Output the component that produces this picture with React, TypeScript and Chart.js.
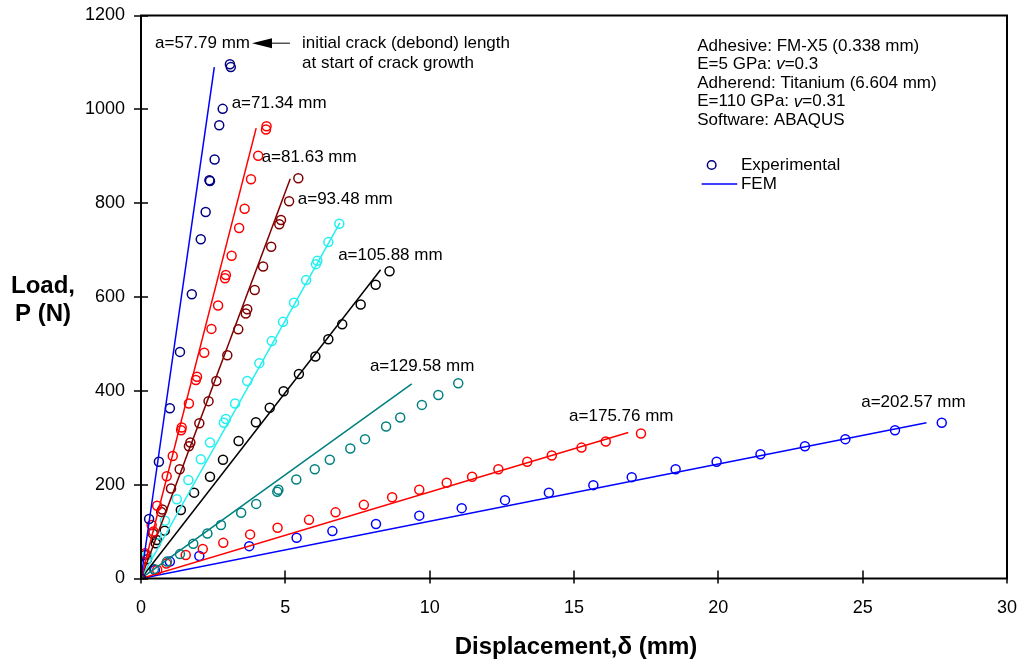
import { useEffect, useRef } from "react";
import { Chart, registerables } from "chart.js";

Chart.register(...registerables);

const FONT = '"Liberation Sans", Arial, Helvetica, sans-serif';

// Axis ranges / ticks
const xTickValues = [0, 5, 10, 15, 20, 25, 30];
const yTickValues = [0, 200, 400, 600, 800, 1000, 1200];

// Crack lengths (series names)
const crackLabels = ["a=57.79 mm", "a=71.34 mm", "a=81.63 mm", "a=93.48 mm", "a=105.88 mm", "a=129.58 mm", "a=175.76 mm", "a=202.57 mm"];

// Experimental data: displacement (mm) / load (N)
const exp1X = [0, 0.28, 0.62, 1.0, 1.35, 1.76, 2.07, 2.24, 2.37, 2.39, 2.55, 2.71, 2.83, 3.08, 3.11];
const exp1Y = [0, 127, 249, 363, 483, 606, 723, 781, 849, 847, 893, 966, 1001, 1096, 1090];

const exp2X = [0, 0.14, 0.37, 0.43, 0.56, 0.89, 1.1, 1.39, 1.41, 1.66, 1.9, 1.94, 2.19, 2.44, 2.67, 2.91, 2.94, 3.14, 3.4, 3.59, 3.81, 4.06, 4.33, 4.35];
const exp2Y = [0, 54, 114, 100, 155, 218, 261, 316, 322, 373, 423, 430, 481, 532, 582, 640, 647, 688, 747, 788, 851, 901, 957, 964];

const exp3X = [0, 0.14, 0.41, 0.7, 0.74, 1.04, 1.34, 1.66, 1.71, 2.02, 2.34, 2.61, 2.99, 3.37, 3.63, 3.68, 3.94, 4.23, 4.51, 4.79, 4.85, 5.13, 5.45];
const exp3Y = [0, 50, 96, 142, 147, 192, 233, 282, 290, 331, 378, 421, 476, 531, 565, 574, 615, 665, 707, 755, 764, 804, 853];

const exp4X = [0, 0.22, 0.54, 0.83, 1.24, 1.64, 2.07, 2.39, 2.87, 2.94, 3.26, 3.68, 4.1, 4.53, 4.92, 5.3, 5.72, 6.06, 6.11, 6.49, 6.87];
const exp4Y = [0, 50, 93, 123, 169, 210, 254, 290, 332, 340, 373, 421, 459, 506, 547, 588, 636, 670, 677, 717, 756];

const exp5X = [0, 0.21, 0.51, 0.55, 0.82, 1.38, 1.84, 2.39, 2.84, 3.38, 3.98, 4.46, 4.94, 5.47, 6.04, 6.49, 6.97, 7.61, 8.13, 8.61];
const exp5Y = [0, 41, 75, 82, 102, 146, 183, 217, 253, 293, 333, 364, 399, 436, 473, 510, 542, 584, 626, 655];

const exp6X = [0, 0.45, 0.9, 1.35, 1.81, 2.3, 2.77, 3.47, 3.99, 4.72, 4.76, 5.38, 6.02, 6.54, 7.25, 7.76, 8.49, 8.98, 9.73, 10.3, 10.99];
const exp6Y = [0, 20, 36, 52, 74, 96, 114, 140, 159, 185, 189, 211, 233, 253, 277, 297, 324, 343, 370, 391, 416];

const exp7X = [0, 0.56, 0.88, 1.55, 2.14, 2.85, 3.78, 4.73, 5.82, 6.74, 7.72, 8.7, 9.64, 10.59, 11.47, 12.38, 13.38, 14.23, 15.26, 16.1, 17.32];
const exp7Y = [0, 18, 32, 50, 63, 76, 94, 108, 125, 141, 157, 173, 189, 204, 217, 233, 249, 262, 279, 292, 309];

const exp8X = [0, 0.48, 1.0, 2.02, 3.75, 5.39, 6.63, 8.14, 9.64, 11.11, 12.61, 14.13, 15.67, 17.0, 18.52, 19.94, 21.46, 23.0, 24.4, 26.12, 27.74];
const exp8Y = [0, 18, 36, 48, 69, 87, 101, 116, 134, 150, 167, 183, 199, 216, 233, 249, 265, 282, 297, 316, 332];

// FEM predictions (linear)
const fem1X = [0, 2.54];
const fem1Y = [0, 1090];
const fem2X = [0, 3.99];
const fem2Y = [0, 960];
const fem3X = [0, 5.17];
const fem3Y = [0, 852];
const fem4X = [0, 6.89];
const fem4Y = [0, 758];
const fem5X = [0, 8.3];
const fem5Y = [0, 658];
const fem6X = [0, 9.38];
const fem6Y = [0, 415];
const fem7X = [0, 16.88];
const fem7Y = [0, 311];
const fem8X = [0, 27.21];
const fem8Y = [0, 332];

const expColors = ["#000080", "#FF0000", "#800000", "#22F0F0", "#000000", "#008080", "#FF0000", "#0000FF"];
const femColors = ["#0000FF", "#FF0000", "#800000", "#22F0F0", "#000000", "#008080", "#FF0000", "#0000FF"];

const infoLines = [
  [["Adhesive: FM-X5 (0.338 mm)", false]],
  [["E=5 GPa: ", false], ["v", true], ["=0.3", false]],
  [["Adherend: Titanium (6.604 mm)", false]],
  [["E=110 GPa: ", false], ["v", true], ["=0.31", false]],
  [["Software: ABAQUS", false]],
];

// label anchors (data coords; left-middle of text)
const labelPos = [
  [0.485, 1141],
  [3.14, 1013],
  [4.18, 898],
  [5.43, 809],
  [6.83, 689],
  [7.93, 453],
  [14.83, 345],
  [24.95, 376],
];

const expX = [exp1X, exp2X, exp3X, exp4X, exp5X, exp6X, exp7X, exp8X];
const expY = [exp1Y, exp2Y, exp3Y, exp4Y, exp5Y, exp6Y, exp7Y, exp8Y];
const femX = [fem1X, fem2X, fem3X, fem4X, fem5X, fem6X, fem7X, fem8X];
const femY = [fem1Y, fem2Y, fem3Y, fem4Y, fem5Y, fem6Y, fem7Y, fem8Y];

const zip = (xs: number[], ys: number[]) => xs.map((x, i) => ({ x, y: ys[i] }));

const overlayPlugin = {
  id: "overlay",
  afterDraw(chart: any) {
    const { ctx, chartArea } = chart;
    const xs = chart.scales.x;
    const ys = chart.scales.y;
    const { left, right, top, bottom } = chartArea;
    ctx.save();
    // frame
    ctx.strokeStyle = "#000";
    ctx.lineWidth = 2;
    ctx.strokeRect(left, top, right - left, bottom - top);
    // ticks
    ctx.lineWidth = 1.5;
    ctx.beginPath();
    yTickValues.forEach((v) => {
      const py = Math.round(ys.getPixelForValue(v));
      ctx.moveTo(left - 7, py);
      ctx.lineTo(left + 7, py);
    });
    xTickValues.forEach((v) => {
      const px = Math.round(xs.getPixelForValue(v));
      ctx.moveTo(px, bottom - 8);
      ctx.lineTo(px, bottom + 5);
    });
    ctx.stroke();

    // axis titles
    ctx.fillStyle = "#000";
    ctx.font = `bold 24px ${FONT}`;
    ctx.textAlign = "center";
    ctx.textBaseline = "middle";
    ctx.fillText("Load,", 43, 286);
    ctx.fillText("P (N)", 43, 314);
    ctx.fillText("Displacement,\u03b4 (mm)", (left + right) / 2 + 2, 647);

    // crack labels
    ctx.font = `17px ${FONT}`;
    ctx.textAlign = "left";
    crackLabels.forEach((t, i) => {
      ctx.fillText(t, xs.getPixelForValue(labelPos[i][0]), ys.getPixelForValue(labelPos[i][1]));
    });

    // arrow + note
    const ay = ys.getPixelForValue(1141);
    const tipX = xs.getPixelForValue(3.845);
    const tailX = xs.getPixelForValue(5.16);
    ctx.lineWidth = 1;
    ctx.beginPath();
    ctx.moveTo(tailX, ay);
    ctx.lineTo(tipX + 10, ay);
    ctx.stroke();
    ctx.beginPath();
    ctx.moveTo(tipX, ay);
    ctx.lineTo(tipX + 20, ay - 5);
    ctx.lineTo(tipX + 20, ay + 5);
    ctx.closePath();
    ctx.fill();
    const nx = xs.getPixelForValue(5.58);
    ctx.fillText("initial crack (debond) length", nx, ay);
    ctx.fillText("at start of crack growth", nx, ay + 20.5);

    // info block
    const ix = xs.getPixelForValue(19.27);
    const iy = ys.getPixelForValue(1135);
    infoLines.forEach((line, li) => {
      let cx = ix;
      line.forEach(([txt, ital]) => {
        ctx.font = `${ital ? "italic " : ""}17px ${FONT}`;
        ctx.fillText(txt as string, cx, iy + li * 18.6);
        cx += ctx.measureText(txt as string).width;
      });
    });

    // legend
    ctx.font = `17px ${FONT}`;
    const ly1 = iy + 119;
    const ly2 = iy + 138;
    ctx.strokeStyle = "#000080";
    ctx.lineWidth = 1.5;
    ctx.beginPath();
    ctx.arc(ix + 14.4, ly1, 4.3, 0, Math.PI * 2);
    ctx.stroke();
    ctx.fillText("Experimental", ix + 43.7, ly1);
    ctx.strokeStyle = "#0000FF";
    ctx.beginPath();
    ctx.moveTo(ix + 4.4, ly2);
    ctx.lineTo(ix + 40, ly2);
    ctx.stroke();
    ctx.fillText("FEM", ix + 43.7, ly2);
    ctx.restore();
  },
};

export default function App() {
  const ref = useRef<HTMLCanvasElement | null>(null);
  useEffect(() => {
    if (!ref.current) return;
    const datasets: any[] = [];
    for (let i = 0; i < 8; i++) {
      datasets.push({
        label: "FEM " + crackLabels[i],
        data: zip(femX[i], femY[i]),
        showLine: true,
        borderColor: femColors[i],
        borderWidth: 1.5,
        pointRadius: 0,
        fill: false,
      });
      datasets.push({
        label: "Exp " + crackLabels[i],
        data: zip(expX[i], expY[i]),
        showLine: false,
        pointStyle: "circle",
        pointRadius: 4.5,
        pointBorderWidth: 1.5,
        pointBorderColor: expColors[i],
        pointBackgroundColor: "rgba(0,0,0,0)",
        borderColor: expColors[i],
      });
    }
    const chart = new Chart(ref.current, {
      type: "scatter",
      data: { datasets },
      options: {
        animation: false,
        responsive: false,
        devicePixelRatio: 1,
        layout: { padding: { top: 15.5, right: 13, left: 0, bottom: 0 } },
        plugins: { legend: { display: false }, tooltip: { enabled: false } },
        scales: {
          x: {
            type: "linear",
            min: 0,
            max: 30,
            afterFit: (s: any) => {
              s.height = 662 - 578.5;
              s.paddingLeft = 0;
              s.paddingRight = 0;
            },
            afterBuildTicks: (s: any) => { s.ticks = xTickValues.map((v) => ({ value: v })); },
            grid: { display: false, drawTicks: false },
            border: { display: false },
            ticks: { color: "#000", font: { family: FONT, size: 18 }, padding: 19, maxRotation: 0, callback: (v: any) => String(v) },
          },
          y: {
            type: "linear",
            min: 0,
            max: 1200,
            afterFit: (s: any) => {
              s.width = 141;
              s.paddingTop = 0;
              s.paddingBottom = 0;
            },
            afterBuildTicks: (s: any) => { s.ticks = yTickValues.map((v) => ({ value: v })); },
            grid: { display: false, drawTicks: false },
            border: { display: false },
            ticks: { color: "#000", font: { family: FONT, size: 18 }, padding: 16, callback: (v: any) => String(v) },
          },
        },
      },
      plugins: [overlayPlugin],
    });
    return () => chart.destroy();
  }, []);
  return (
    <div style={{ position: "absolute", left: 0, top: 0, width: 1020, height: 662, background: "#fff" }}>
      <canvas ref={ref} width={1020} height={662} style={{ display: "block" }} />
    </div>
  );
}
